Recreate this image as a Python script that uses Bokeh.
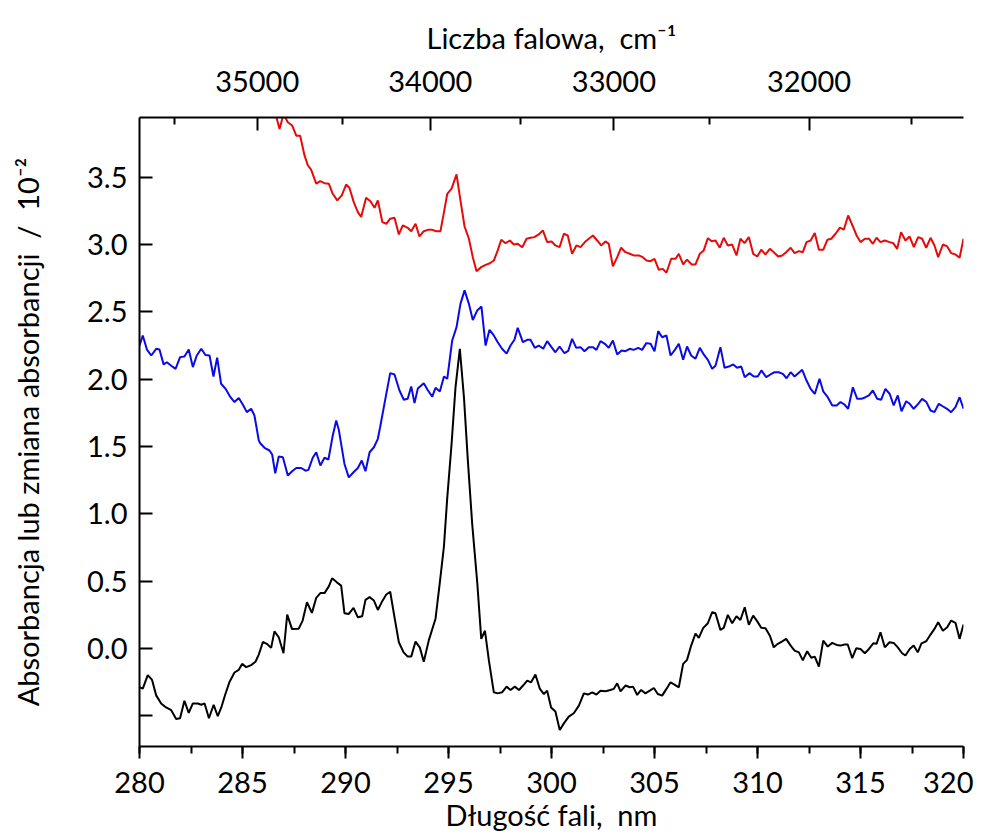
from bokeh.plotting import figure
from bokeh.models import (Range1d, LinearAxis, FixedTicker, SingleIntervalTicker,
                          CustomJSTickFormatter, NumeralTickFormatter)
from bokeh.embed import file_html
from bokeh.resources import INLINE

# ---------------- data ----------------
black_x = [280.00, 280.16, 280.40, 280.61, 280.81, 281.05, 281.29, 281.54, 281.78, 281.97,
           282.18, 282.39, 282.59, 282.83, 283.00, 283.16, 283.37, 283.60, 283.80, 283.97,
           284.17, 284.37, 284.61, 284.82, 284.98, 285.18, 285.42, 285.63, 285.79, 285.99,
           286.18, 286.39, 286.55, 286.76, 286.99, 287.17, 287.40, 287.73, 287.92, 288.13,
           288.37, 288.58, 288.78, 288.98, 289.19, 289.35, 289.58, 289.79, 289.95, 290.16,
           290.39, 290.60, 290.81, 290.97, 291.17, 291.38, 291.57, 291.79, 291.98, 292.17,
           292.38, 292.59, 292.82, 293.02, 293.19, 293.40, 293.61, 293.80, 294.04, 294.37,
           294.58, 294.78, 294.94, 295.15, 295.34, 295.55, 295.75, 295.94, 296.15, 296.40,
           296.59, 296.77, 296.96, 297.20, 297.39, 297.60, 297.82, 298.01, 298.22, 298.42,
           298.62, 298.82, 299.01, 299.22, 299.43, 299.63, 299.79, 299.98, 300.19, 300.40,
           300.60, 300.84, 301.08, 301.33, 301.57, 301.77, 301.98, 302.18, 302.38, 302.62,
           302.86, 303.02, 303.19, 303.35, 303.59, 303.80, 303.96, 304.16, 304.35, 304.56,
           304.77, 304.97, 305.16, 305.37, 305.58, 305.78, 305.97, 306.18, 306.39, 306.58,
           306.78, 306.99, 307.15, 307.36, 307.59, 307.80, 307.96, 308.20, 308.36, 308.56,
           308.77, 308.98, 309.17, 309.38, 309.58, 309.79, 309.99, 310.18, 310.39, 310.60,
           310.79, 310.99, 311.20, 311.39, 311.61, 311.80, 312.01, 312.20, 312.41, 312.61,
           312.78, 312.98, 313.19, 313.41, 313.63, 313.84, 314.03, 314.22, 314.38, 314.60,
           314.79, 315.00, 315.21, 315.41, 315.62, 315.78, 315.97, 316.18, 316.41, 316.61,
           316.81, 317.02, 317.18, 317.39, 317.58, 317.78, 317.96, 318.19, 318.40, 318.59,
           318.77, 319.00, 319.21, 319.40, 319.61, 319.81, 320.00]
black_y = [-0.29, -0.30, -0.20, -0.235, -0.35, -0.41, -0.44, -0.46, -0.525, -0.52,
           -0.39, -0.48, -0.41, -0.41, -0.42, -0.41, -0.52, -0.42, -0.505, -0.44,
           -0.34, -0.25, -0.18, -0.16, -0.116, -0.14, -0.125, -0.10, -0.047, 0.047,
           0.033, 0.003, 0.126, 0.082, -0.037, 0.25, 0.144, 0.146, 0.206, 0.342,
           0.263, 0.375, 0.41, 0.41, 0.46, 0.52, 0.49, 0.466, 0.26, 0.255,
           0.30, 0.23, 0.238, 0.36, 0.38, 0.355, 0.285, 0.352, 0.40, 0.42,
           0.23, 0.045, -0.03, -0.062, -0.062, 0.05, 0.005, -0.10, 0.057, 0.22,
           0.49, 0.76, 1.12, 1.52, 1.94, 2.226, 1.866, 1.395, 0.925, 0.48,
           0.07, 0.13, -0.09, -0.327, -0.335, -0.327, -0.285, -0.31, -0.285, -0.31,
           -0.277, -0.24, -0.253, -0.195, -0.30, -0.34, -0.315, -0.44, -0.47, -0.607,
           -0.558, -0.508, -0.483, -0.426, -0.335, -0.344, -0.327, -0.344, -0.315, -0.32,
           -0.31, -0.302, -0.26, -0.32, -0.277, -0.29, -0.285, -0.347, -0.31, -0.335,
           -0.315, -0.295, -0.34, -0.352, -0.302, -0.253, -0.27, -0.29, -0.116, -0.086,
           0.02, 0.11, 0.077, 0.15, 0.186, 0.268, 0.26, 0.137, 0.152, 0.248,
           0.186, 0.238, 0.21, 0.305, 0.174, 0.243, 0.20, 0.152, 0.149, 0.094,
           0.007, 0.033, 0.052, 0.07, 0.02, -0.017, -0.03, -0.09, -0.022, -0.07,
           -0.062, -0.136, 0.057, 0.013, 0.04, 0.025, 0.02, 0.028, 0.028, -0.074,
           0.0, -0.005, -0.037, -0.005, 0.037, 0.033, 0.119, 0.007, 0.045, 0.04,
           0.007, -0.037, -0.054, -0.005, 0.02, -0.03, 0.037, 0.052, 0.102, 0.144,
           0.193, 0.13, 0.156, 0.206, 0.189, 0.07, 0.176]

blue_x = [280.00, 280.16, 280.36, 280.57, 280.81, 280.97, 281.17, 281.33, 281.54, 281.75,
          281.97, 282.18, 282.39, 282.59, 282.78, 283.00, 283.20, 283.40, 283.59, 283.77,
          283.96, 284.17, 284.40, 284.61, 284.82, 285.02, 285.21, 285.42, 285.58, 285.79,
          285.86, 286.07, 286.31, 286.44, 286.59, 286.76, 286.96, 287.20, 287.41, 287.61,
          287.85, 288.06, 288.20, 288.41, 288.58, 288.78, 288.98, 289.17, 289.38, 289.55,
          289.68, 289.95, 290.16, 290.40, 290.60, 290.79, 290.97, 291.17, 291.38, 291.57,
          291.68, 291.89, 292.17, 292.38, 292.62, 292.83, 293.02, 293.19, 293.35, 293.51,
          293.80, 293.99, 294.21, 294.37, 294.58, 294.78, 294.94, 295.18, 295.39, 295.58,
          295.78, 295.99, 296.18, 296.39, 296.60, 296.80, 296.99, 297.20, 297.39, 297.60,
          297.82, 298.01, 298.20, 298.36, 298.61, 298.82, 298.98, 299.19, 299.38, 299.60,
          299.79, 300.00, 300.19, 300.39, 300.63, 300.81, 301.00, 301.20, 301.41, 301.60,
          301.81, 302.02, 302.18, 302.38, 302.59, 302.78, 302.98, 303.19, 303.40, 303.59,
          303.80, 303.99, 304.21, 304.40, 304.60, 304.81, 305.00, 305.18, 305.37, 305.58,
          305.78, 305.99, 306.18, 306.39, 306.58, 306.78, 306.99, 307.20, 307.39, 307.59,
          307.80, 307.96, 308.20, 308.40, 308.61, 308.82, 309.01, 309.21, 309.38, 309.61,
          309.82, 310.01, 310.19, 310.42, 310.63, 310.83, 311.03, 311.23, 311.41, 311.61,
          311.80, 311.98, 312.17, 312.38, 312.58, 312.78, 313.01, 313.19, 313.41, 313.63,
          313.84, 314.03, 314.22, 314.40, 314.63, 314.84, 315.05, 315.24, 315.41, 315.60,
          315.81, 316.00, 316.21, 316.42, 316.61, 316.81, 316.99, 317.22, 317.39, 317.58,
          317.80, 317.99, 318.20, 318.40, 318.59, 318.80, 319.01, 319.20, 319.40, 319.61,
          319.81, 320.00]
blue_y = [2.25, 2.325, 2.22, 2.176, 2.226, 2.22, 2.11, 2.126, 2.10, 2.077,
          2.164, 2.168, 2.22, 2.09, 2.176, 2.226, 2.18, 2.176, 2.02, 2.16,
          1.966, 1.93, 1.87, 1.83, 1.86, 1.81, 1.755, 1.78, 1.73, 1.545,
          1.524, 1.49, 1.47, 1.44, 1.30, 1.425, 1.42, 1.284, 1.316, 1.34,
          1.34, 1.32, 1.326, 1.416, 1.457, 1.358, 1.416, 1.403, 1.58, 1.693,
          1.62, 1.37, 1.27, 1.31, 1.34, 1.395, 1.316, 1.457, 1.494, 1.557,
          1.643, 1.817, 2.045, 2.035, 1.916, 1.847, 1.854, 1.946, 1.822, 1.93,
          1.97, 1.92, 1.87, 1.936, 1.908, 2.02, 2.003, 2.288, 2.387, 2.56,
          2.66, 2.56, 2.44, 2.51, 2.54, 2.25, 2.367, 2.325, 2.275, 2.226,
          2.19, 2.25, 2.293, 2.382, 2.275, 2.293, 2.293, 2.233, 2.25, 2.226,
          2.283, 2.238, 2.20, 2.243, 2.193, 2.21, 2.30, 2.233, 2.238, 2.208,
          2.238, 2.238, 2.218, 2.283, 2.263, 2.233, 2.288, 2.184, 2.213, 2.208,
          2.226, 2.218, 2.233, 2.218, 2.268, 2.263, 2.208, 2.357, 2.312, 2.325,
          2.176, 2.218, 2.263, 2.144, 2.243, 2.176, 2.152, 2.233, 2.184, 2.144,
          2.077, 2.10, 2.238, 2.085, 2.094, 2.11, 2.085, 2.094, 2.015, 2.045,
          2.02, 2.02, 2.065, 2.015, 2.035, 2.052, 2.052, 2.04, 2.007, 2.052,
          2.02, 2.045, 2.07, 1.99, 1.928, 1.89, 2.003, 1.91, 1.866, 1.805,
          1.805, 1.83, 1.812, 1.78, 1.94, 1.854, 1.854, 1.866, 1.879, 1.916,
          1.854, 1.847, 1.928, 1.89, 1.805, 1.879, 1.762, 1.836, 1.817, 1.78,
          1.817, 1.854, 1.83, 1.767, 1.755, 1.817, 1.797, 1.78, 1.755, 1.792,
          1.866, 1.78]

red_x = [286.55, 286.80, 286.99, 287.20, 287.41, 287.61, 287.80, 288.01, 288.17, 288.33,
         288.58, 288.77, 288.98, 289.19, 289.38, 289.60, 289.82, 290.03, 290.19, 290.40,
         290.60, 290.76, 291.00, 291.21, 291.41, 291.57, 291.79, 291.98, 292.17, 292.38,
         292.59, 292.78, 293.02, 293.19, 293.40, 293.59, 293.80, 293.99, 294.21, 294.41,
         294.61, 294.78, 294.94, 295.15, 295.39, 295.58, 295.78, 295.99, 296.18, 296.36,
         296.59, 296.80, 297.01, 297.20, 297.39, 297.56, 297.77, 297.98, 298.17, 298.36,
         298.58, 298.79, 298.98, 299.17, 299.38, 299.58, 299.79, 300.00, 300.19, 300.39,
         300.60, 300.79, 301.00, 301.21, 301.41, 301.62, 301.81, 302.01, 302.22, 302.41,
         302.62, 302.78, 302.98, 303.19, 303.38, 303.59, 303.80, 303.99, 304.24, 304.43,
         304.61, 304.81, 305.00, 305.21, 305.40, 305.58, 305.81, 306.02, 306.18, 306.39,
         306.58, 306.80, 306.99, 307.20, 307.39, 307.59, 307.77, 307.96, 308.17, 308.36,
         308.56, 308.77, 308.98, 309.17, 309.37, 309.58, 309.79, 309.99, 310.18, 310.39,
         310.60, 310.79, 311.00, 311.20, 311.39, 311.61, 311.80, 312.01, 312.20, 312.38,
         312.58, 312.78, 312.98, 313.19, 313.39, 313.58, 313.79, 314.00, 314.19, 314.40,
         314.63, 314.81, 315.00, 315.21, 315.41, 315.60, 315.78, 315.97, 316.18, 316.41,
         316.59, 316.78, 316.97, 317.18, 317.38, 317.59, 317.80, 317.99, 318.19, 318.40,
         318.59, 318.77, 319.00, 319.21, 319.40, 319.61, 319.81, 320.00]
red_y = [4.00, 3.86, 3.97, 3.91, 3.886, 3.81, 3.81, 3.663, 3.59, 3.557,
         3.453, 3.472, 3.457, 3.453, 3.378, 3.329, 3.366, 3.447, 3.423, 3.316,
         3.242, 3.205, 3.349, 3.323, 3.274, 3.329, 3.167, 3.155, 3.193, 3.20,
         3.076, 3.143, 3.125, 3.10, 3.155, 3.061, 3.10, 3.11, 3.11, 3.10,
         3.10, 3.242, 3.378, 3.416, 3.522, 3.329, 3.135, 3.044, 2.907, 2.803,
         2.833, 2.85, 2.862, 2.882, 2.957, 3.036, 3.011, 3.031, 3.001, 3.006,
         2.981, 3.044, 3.051, 3.056, 3.076, 3.106, 3.019, 3.024, 2.994, 2.981,
         3.081, 3.068, 2.932, 2.994, 2.981, 3.019, 3.044, 3.068, 3.031, 2.994,
         3.024, 3.006, 2.838, 2.907, 2.977, 2.944, 2.932, 2.92, 2.92, 2.907,
         2.882, 2.877, 2.895, 2.813, 2.82, 2.791, 2.895, 2.895, 2.932, 2.853,
         2.888, 2.853, 2.853, 2.932, 2.957, 3.048, 3.026, 3.031, 2.977, 3.051,
         2.994, 3.001, 2.92, 3.044, 3.011, 3.056, 2.932, 2.912, 2.962, 2.927,
         2.969, 2.944, 2.912, 2.92, 2.944, 2.977, 2.937, 2.952, 2.944, 3.019,
         3.031, 3.086, 2.962, 2.962, 3.036, 3.044, 3.081, 3.126, 3.111, 3.217,
         3.135, 3.068, 3.019, 3.044, 3.044, 3.006, 3.051, 3.019, 3.031, 3.019,
         3.011, 2.969, 3.093, 3.031, 3.061, 2.981, 3.056, 3.044, 2.977, 3.051,
         2.994, 2.907, 3.001, 2.987, 2.937, 2.927, 2.902, 3.044]

x_ticks = [280, 285, 290, 295, 300, 305, 310, 315, 320]
y_ticks = [-0.5, 0.0, 0.5, 1.0, 1.5, 2.0, 2.5, 3.0, 3.5]
wn_major = [35000, 34000, 33000, 32000]
wn_minor = [35500, 34500, 33500, 32500, 31500]

FONT = "Lato"
FS = "29px"
NB = "\u00a0"

p = figure(width=975, height=825, output_backend="svg", toolbar_location=None,
           x_range=Range1d(280, 320), y_range=Range1d(-0.73, 3.945),
           frame_width=824, frame_height=629,
           min_border_left=139, min_border_top=117, min_border_bottom=40, min_border_right=10)
p.outline_line_color = None
p.xgrid.visible = False
p.ygrid.visible = False
p.background_fill_color = "white"
p.border_fill_color = "white"

p.line(black_x, black_y, line_color="black", line_width=2)
p.line(blue_x, blue_y, line_color="#0a0ae6", line_width=2)
p.line(red_x, red_y, line_color="#e60a0a", line_width=2)

def style(ax):
    ax.axis_line_width = 2
    ax.axis_line_color = "black"
    ax.major_tick_line_width = 2
    ax.minor_tick_line_width = 2
    ax.major_tick_line_color = "black"
    ax.minor_tick_line_color = "black"
    ax.major_label_text_font = FONT
    ax.major_label_text_font_size = FS
    ax.major_label_text_color = "black"
    ax.axis_label_text_font = FONT
    ax.axis_label_text_font_size = FS
    ax.axis_label_text_font_style = "normal"
    ax.axis_label_text_color = "black"

xa = p.xaxis[0]
style(xa)
xa.ticker = SingleIntervalTicker(interval=5, num_minor_ticks=2)
xa.major_tick_in = 0
xa.major_tick_out = 12
xa.minor_tick_in = 0
xa.minor_tick_out = 7
xa.major_label_standoff = 13
xa.axis_label = "Długość fali," + NB + " nm"
xa.axis_label_standoff = 1

ya = p.yaxis[0]
style(ya)
ya.ticker = FixedTicker(ticks=y_ticks)
ya.formatter = NumeralTickFormatter(format="0.0")
ya.major_label_overrides = {-0.5: ""}
ya.major_tick_in = 13
ya.major_tick_out = 0
ya.minor_tick_line_color = None
ya.major_label_standoff = 12
ya.axis_label = "Absorbancja lub zmiana absorbancji " + NB + "/" + NB + " 10⁻²"
ya.axis_label_standoff = 39

top = LinearAxis(
    ticker=FixedTicker(ticks=[1e7 / w for w in wn_major],
                       minor_ticks=[1e7 / w for w in wn_minor]),
    formatter=CustomJSTickFormatter(code="return String(Math.round(1e7 / tick));"),
)
style(top)
top.major_tick_in = 13
top.major_tick_out = 0
top.minor_tick_in = 7
top.minor_tick_out = 0
top.major_label_standoff = 26
top.axis_label = "Liczba falowa," + NB + " cm⁻¹"
top.axis_label_standoff = 13
p.add_layout(top, "above")

open("out.html", "w").write(file_html(p, INLINE))
